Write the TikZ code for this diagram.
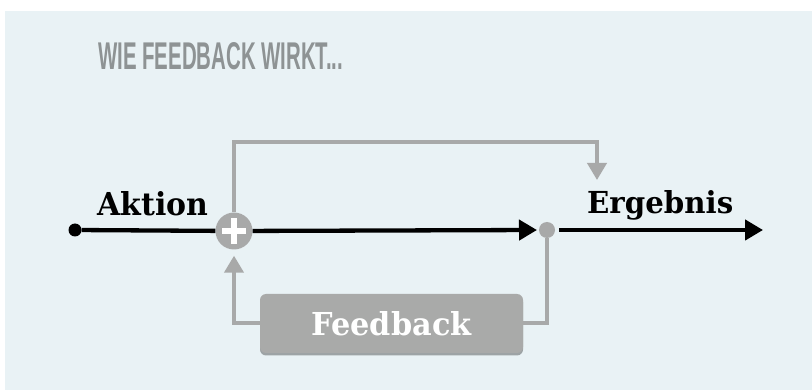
\documentclass[tikz,border=0pt]{standalone}
\usepackage{fontspec}
\usepackage{graphicx}
\usetikzlibrary{arrows.meta}
\newfontfamily\slabfont{DejaVu Serif}
\newfontfamily\titlefont{Liberation Sans}
\definecolor{bgc}{HTML}{E9F2F5}
\definecolor{gline}{HTML}{A8A9A9}
\definecolor{titlegray}{HTML}{8E9394}
\definecolor{boxgray}{HTML}{A9AAA9}
\definecolor{shadowgray}{HTML}{9DA3A5}
\begin{document}
\begin{tikzpicture}[x=1pt,y=-1pt,
  blackconn/.style={draw=black, line width=4.3pt},
  grayconn/.style={draw=gline, line width=4pt},
  blackhead/.style={-{Triangle[width=20pt,length=18pt]}},
  grayhead/.style={-{Triangle[width=19pt,length=17pt]}},
  lbl/.style={inner sep=0pt, anchor=base west},
  fbbox/.style={fill=boxgray, rounded corners=6pt, minimum width=263pt, minimum height=59pt, inner sep=0pt, text=white}
]
\useasboundingbox (0,0) rectangle (812,390);
\fill[bgc] (5,11) rectangle (812,390);

\node[lbl, text=titlegray] (title) at (98,70) {\resizebox{245pt}{27pt}{\titlefont\bfseries WIE FEEDBACK WIRKT...}};

\node[lbl] (aktion) at (97,216) {\resizebox{111pt}{24pt}{\slabfont\bfseries Aktion}};
\node[lbl] (ergebnis) at (587,214) {\resizebox{146pt}{23pt}{\slabfont\bfseries Ergebnis}};

% shadow + feedback box
\fill[shadowgray, rounded corners=6pt] (260,296) rectangle (523,355.5);
\node[fbbox] (fb) at (391.5,323.5) {\resizebox{160pt}{24pt}{\slabfont\bfseries Feedback}};

\coordinate (tipA) at (537,230);
\coordinate (outS) at (559,230);
\coordinate (outE) at (763,230);
\coordinate (topR) at (597,142);
\coordinate (ergTip) at (597,180);

\node[circle, fill=black, inner sep=0pt, minimum size=13pt] (start) at (75,230) {};
\node[circle, fill=gline, inner sep=0pt, minimum size=37pt] (plus) at (234,231) {};
\node[circle, fill=gline, inner sep=0pt, minimum size=16pt] (dot) at (547,230) {};

\draw[white, line width=5.5pt] (plus.center) ++(-12,0) -- ++(24,0);
\draw[white, line width=5.5pt] (plus.center) ++(0,-13) -- ++(0,26);

% black main line
\draw[blackconn] (start) -- (plus);
\draw[blackconn, blackhead] (plus) -- (tipA);
\draw[blackconn, blackhead] (outS) -- (outE);

% gray feedforward
\draw[grayconn, grayhead] (plus.north) |- (topR) -- (ergTip);

% gray feedback loop
\draw[grayconn] (dot.south) |- (fb.east);
\draw[grayconn, grayhead, shorten >=6pt] (fb.west) -| (plus.south);
\end{tikzpicture}
\end{document}
